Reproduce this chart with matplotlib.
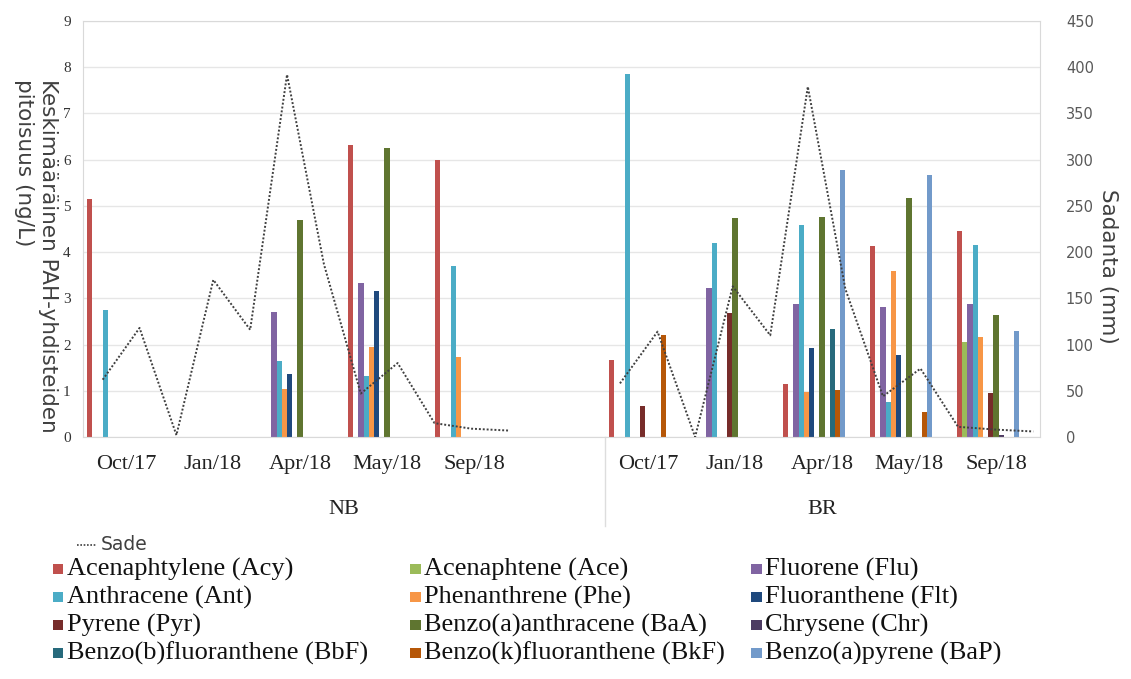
import matplotlib
matplotlib.use("Agg")
import matplotlib.pyplot as plt
from matplotlib.lines import Line2D
from matplotlib.patches import Rectangle

# Näytteenottokerrat (NB ja BR)
months = ["Oct/17", "Jan/18", "Apr/18", "May/18", "Sep/18"]
sites = ["NB", "BR"]

# PAH-yhdisteet ja värit
compounds = [
    "Acenaphtylene (Acy)", "Acenaphtene (Ace)", "Fluorene (Flu)",
    "Anthracene (Ant)", "Phenanthrene (Phe)", "Fluoranthene (Flt)",
    "Pyrene (Pyr)", "Benzo(a)anthracene (BaA)", "Chrysene (Chr)",
    "Benzo(b)fluoranthene (BbF)", "Benzo(k)fluoranthene (BkF)", "Benzo(a)pyrene (BaP)",
]
colors = ["#C0504D", "#9BBB59", "#8064A2", "#4BACC6", "#F79646", "#1F497D",
          "#772C2A", "#5F7530", "#4D3B62", "#276A7C", "#B65708", "#729ACA"]

# pitoisuudet ng/L: NB Oct..Sep, BR Oct..Sep
acy = [5.15, 0, 0, 6.31, 6.00, 1.67, 0, 1.14, 4.14, 4.46]
ace = [0, 0, 0, 0, 0, 0, 0, 0, 0, 2.05]
flu = [0, 0, 2.70, 3.34, 0, 0, 3.22, 2.88, 2.82, 2.88]
ant = [2.75, 0, 1.64, 1.31, 3.69, 7.85, 4.19, 4.59, 0.75, 4.16]
phe = [0, 0, 1.03, 1.95, 1.74, 0, 0, 0.98, 3.59, 2.16]
flt = [0, 0, 1.36, 3.16, 0, 0, 0, 1.92, 1.77, 0]
pyr = [0, 0, 0, 0, 0, 0.66, 2.68, 0, 0, 0.95]
baa = [0, 0, 4.70, 6.26, 0, 0, 4.73, 4.75, 5.18, 2.64]
chr_ = [0, 0, 0, 0, 0, 0, 0, 0, 0, 0.05]
bbf = [0, 0, 0, 0, 0, 0, 0, 2.33, 0, 0]
bkf = [0, 0, 0, 0, 0, 2.21, 0, 1.02, 0.55, 0]
bap = [0, 0, 0, 0, 0, 0, 0, 5.78, 5.67, 2.29]
values = [acy, ace, flu, ant, phe, flt, pyr, baa, chr_, bbf, bkf, bap]

# kuukausisadanta (mm), Oct/17 - Sep/18
rain_nb = [62, 118, 2, 170, 116, 392, 187, 47, 80, 15, 9, 7]
rain_br = [58, 114, 0, 163, 110, 379, 160, 44, 74, 11, 8, 6]

W, H = 1131, 679
fig = plt.figure(figsize=(W / 100, H / 100), dpi=100)
ax = fig.add_axes([82.5 / W, 1 - 437 / H, 957 / W, 416 / H])

# luokat: NB 0-4, tyhjä väli 5, BR 6-10
cat_x = [0, 1, 2, 3, 4, 6, 7, 8, 9, 10]
bw = 0.06
for k, (vals, c) in enumerate(zip(values, colors)):
    xs = [x + (k - 7) * bw for x in cat_x]
    ax.bar(xs, vals, width=bw, color=c, linewidth=0)

ax.set_xlim(-0.5, 10.5)
ax.set_ylim(0, 9)
ax.set_yticks(range(10))
ax.grid(axis="y", color="#E6E6E6", lw=1)
ax.set_axisbelow(True)
for s in ax.spines.values():
    s.set_color("#D9D9D9")
ax.set_xticks(cat_x)
ax.set_xticklabels(months * 2, family="Liberation Serif", fontsize=16, color="#222222")
ax.tick_params(axis="x", length=0, pad=13)
ax.tick_params(axis="y", length=0, pad=8.5, labelsize=11, labelcolor="#333333")
for t in ax.get_yticklabels():
    t.set_family("Liberation Serif")

# ryhmäotsikot ja erotinviiva
tr = ax.get_xaxis_transform()
ax.text(2.5, -0.175, sites[0], transform=tr, ha="center", va="center",
        family="Liberation Serif", fontsize=16, color="#222222")
ax.text(8.0, -0.175, sites[1], transform=tr, ha="center", va="center",
        family="Liberation Serif", fontsize=16, color="#222222")
ax.plot([5.5, 5.5], [0, -0.215], transform=tr, color="#DDDDDD", lw=1, clip_on=False)

# sadanta toisella akselilla
ax2 = ax.twinx()
ax2.set_ylim(0, 450)
ax2.set_yticks(range(0, 451, 50))
ax2.tick_params(axis="y", length=0, pad=19, labelsize=10.5, labelcolor="#595959")
for s in ax2.spines.values():
    s.set_visible(False)
x_nb = [-0.268 + i * 0.4238 for i in range(len(rain_nb))]
x_br = [5.678 + i * 0.4318 for i in range(len(rain_br))]
ls = (0, (1, 1))
ax2.plot(x_nb, rain_nb, color="#404040", lw=1.4, linestyle=ls)
ax2.plot(x_br, rain_br, color="#404040", lw=1.4, linestyle=ls)

# akselien otsikot
fig.text(36 / W, 1 - 79 / H, "Keskimääräinen PAH-yhdisteiden\npitoisuus (ng/L)",
         rotation=270, ha="center", va="top", multialignment="left",
         fontsize=15.5, color="#404040", family="DejaVu Sans")
fig.text(1108 / W, 1 - 266 / H, "Sadanta (mm)", rotation=270, ha="center",
         va="center", fontsize=15.5, color="#404040", family="DejaVu Sans")

# selite
ly = 1 - 545 / H
fig.add_artist(Line2D([76.7 / W, 96.7 / W], [ly, ly], color="#404040",
                      lw=1.2, linestyle=ls))
fig.text(101 / W, ly, "Sade", ha="left", va="center", fontsize=13.5,
         color="#404040", family="DejaVu Sans")

col_x = [52.7, 410, 751]
row_y = [569, 597, 625, 653]
for i, (name, c) in enumerate(zip(compounds, colors)):
    r, col = divmod(i, 3)
    x0, yc = col_x[col], row_y[r]
    fig.add_artist(Rectangle((x0 / W, 1 - (yc + 5) / H), 10.5 / W, 10.5 / H,
                             transform=fig.transFigure, color=c, lw=0))
    fig.text((x0 + 14) / W, 1 - yc / H, name, ha="left", va="center",
             family="Liberation Serif", fontsize=19, color="#111111")

fig.savefig("out.png", dpi=100)
